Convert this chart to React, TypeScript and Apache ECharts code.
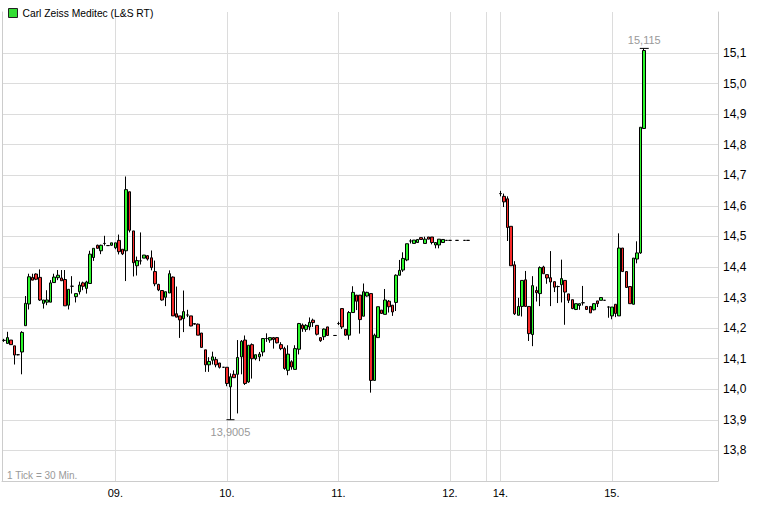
import React, { useEffect, useRef } from 'react';
import * as echarts from 'echarts';

// ---- data ----
const seriesName = 'Carl Zeiss Meditec (L&S RT)';
const dayNames = ['08.', '09.', '10.', '11.', '12.', '13.', '14.', '15.'];
const slotsPerDay = [31, 31, 31, 31, 10, 4, 31, 30];
const labelledDays = ['09.', '10.', '11.', '12.', '14.', '15.'];
const separatorDays = ['09.', '10.', '11.', '12.', '13.', '14.', '15.'];
const yTickLabels = [13.8, 13.9, 14.0, 14.1, 14.2, 14.3, 14.4, 14.5, 14.6, 14.7, 14.8, 14.9, 15.0, 15.1];

type C = [number, number, number, number] | null; // open, close, low, high

const day08: C[] = [
  [14.16, 14.16, 14.155, 14.165],
  [14.15, 14.169, 14.15, 14.188],
  [14.161, 14.146, 14.146, 14.161],
  [14.142, 14.112, 14.081, 14.142],
  [14.113, 14.113, 14.111, 14.115],
  [14.122, 14.186, 14.049, 14.19],
  [14.208, 14.281, 14.208, 14.305],
  [14.279, 14.368, 14.261, 14.378],
  [14.366, 14.357, 14.357, 14.378],
  [14.377, 14.36, 14.357, 14.379],
  [14.366, 14.292, 14.289, 14.392],
  [14.281, 14.292, 14.264, 14.292],
  [14.285, 14.292, 14.275, 14.324],
  [14.285, 14.348, 14.285, 14.357],
  [14.349, 14.367, 14.349, 14.378],
  [14.365, 14.373, 14.357, 14.39],
  [14.364, 14.355, 14.355, 14.39],
  [14.359, 14.273, 14.273, 14.39],
  [14.275, 14.327, 14.261, 14.327],
  [14.337, 14.337, 14.313, 14.37],
  [14.303, 14.313, 14.284, 14.313],
  [14.319, 14.341, 14.31, 14.352],
  [14.348, 14.337, 14.324, 14.352],
  [14.33, 14.351, 14.313, 14.355],
  [14.346, 14.442, 14.346, 14.453],
  [14.431, 14.461, 14.42, 14.461],
  [14.471, 14.461, 14.461, 14.473],
  [14.453, 14.471, 14.442, 14.473],
  [14.477, 14.477, 14.47, 14.502],
  [14.47, 14.47, 14.47, 14.47],
  [14.471, 14.479, 14.469, 14.479],
];

const day09: C[] = [
  [14.463, 14.479, 14.458, 14.479],
  [14.487, 14.45, 14.441, 14.506],
  [14.458, 14.443, 14.439, 14.458],
  [14.453, 14.653, 14.354, 14.696],
  [14.646, 14.52, 14.513, 14.646],
  [14.518, 14.414, 14.369, 14.518],
  [14.404, 14.421, 14.372, 14.434],
  [14.42, 14.42, 14.408, 14.513],
  [14.429, 14.439, 14.429, 14.439],
  [14.437, 14.426, 14.421, 14.439],
  [14.43, 14.398, 14.389, 14.454],
  [14.385, 14.345, 14.337, 14.421],
  [14.343, 14.325, 14.321, 14.345],
  [14.323, 14.292, 14.29, 14.323],
  [14.301, 14.319, 14.272, 14.319],
  [14.315, 14.378, 14.315, 14.389],
  [14.367, 14.24, 14.24, 14.369],
  [14.247, 14.236, 14.236, 14.336],
  [14.24, 14.227, 14.168, 14.24],
  [14.231, 14.254, 14.187, 14.323],
  [14.243, 14.243, 14.236, 14.26],
  [14.24, 14.207, 14.206, 14.24],
  [14.215, 14.213, 14.211, 14.215],
  [14.213, 14.177, 14.177, 14.215],
  [14.184, 14.137, 14.137, 14.184],
  [14.129, 14.08, 14.057, 14.129],
  [14.08, 14.091, 14.057, 14.105],
  [14.095, 14.106, 14.081, 14.123],
  [14.097, 14.08, 14.072, 14.106],
  [14.086, 14.072, 14.068, 14.086],
  [14.072, 14.072, 14.07, 14.072],
];

const day10: C[] = [
  [14.072, 14.019, 14.01, 14.072],
  [14.008, 14.041, 13.9005, 14.052],
  [14.049, 14.038, 14.038, 14.062],
  [14.049, 14.104, 13.921, 14.161],
  [14.106, 14.157, 14.049, 14.161],
  [14.161, 14.019, 14.014, 14.176],
  [14.024, 14.144, 14.021, 14.144],
  [14.146, 14.1, 14.035, 14.15],
  [14.1, 14.113, 14.095, 14.113],
  [14.106, 14.115, 14.092, 14.122],
  [14.122, 14.166, 14.108, 14.166],
  [14.166, 14.166, 14.155, 14.183],
  [14.161, 14.169, 14.152, 14.169],
  [14.169, 14.163, 14.133, 14.171],
  [14.169, 14.152, 14.15, 14.171],
  [14.146, 14.133, 14.128, 14.154],
  [14.133, 14.068, 14.064, 14.139],
  [14.062, 14.115, 14.046, 14.144],
  [14.09, 14.073, 14.064, 14.095],
  [14.065, 14.133, 14.065, 14.144],
  [14.131, 14.215, 14.114, 14.217],
  [14.21, 14.198, 14.188, 14.215],
  [14.196, 14.209, 14.188, 14.213],
  [14.204, 14.219, 14.193, 14.235],
  [14.226, 14.218, 14.204, 14.231],
  [14.209, 14.18, 14.176, 14.209],
  [14.169, 14.159, 14.155, 14.169],
  [14.172, 14.197, 14.161, 14.199],
  [14.204, 14.176, 14.176, 14.204],
  null,
  [14.176, 14.176, 14.176, 14.176],
];

const day11: C[] = [
  [14.215, 14.215, 14.21, 14.221],
  [14.264, 14.204, 14.197, 14.264],
  [14.196, 14.177, 14.175, 14.196],
  [14.177, 14.251, 14.162, 14.256],
  [14.251, 14.317, 14.251, 14.337],
  [14.308, 14.288, 14.259, 14.308],
  [14.308, 14.228, 14.182, 14.308],
  [14.239, 14.319, 14.239, 14.346],
  [14.305, 14.317, 14.303, 14.319],
  [14.313, 14.029, 13.989, 14.313],
  [14.029, 14.177, 14.029, 14.182],
  [14.169, 14.27, 14.169, 14.27],
  [14.259, 14.248, 14.248, 14.259],
  [14.245, 14.292, 14.245, 14.328],
  [14.288, 14.27, 14.251, 14.292],
  [14.275, 14.253, 14.24, 14.275],
  [14.284, 14.373, 14.256, 14.376],
  [14.373, 14.389, 14.373, 14.423],
  [14.39, 14.428, 14.384, 14.448],
  [14.423, 14.476, 14.419, 14.476],
  [14.485, 14.485, 14.477, 14.491],
  [14.477, 14.488, 14.477, 14.488],
  [14.48, 14.49, 14.48, 14.49],
  [14.496, 14.49, 14.49, 14.496],
  [14.477, 14.491, 14.477, 14.499],
  [14.498, 14.491, 14.491, 14.498],
  [14.498, 14.48, 14.474, 14.498],
  [14.472, 14.48, 14.461, 14.48],
  [14.472, 14.491, 14.461, 14.491],
  [14.48, 14.49, 14.48, 14.49],
  [14.487, 14.487, 14.487, 14.487],
];

const day12: C[] = [
  [14.487, 14.487, 14.487, 14.487],
  null,
  [14.487, 14.487, 14.487, 14.487],
  null,
  [14.487, 14.487, 14.487, 14.487],
  [14.487, 14.487, 14.487, 14.487],
  null,
  null,
  null,
  null,
];

const day13: C[] = [null, null, null, null];

const day14: C[] = [
  [14.64, 14.64, 14.631, 14.649],
  [14.631, 14.613, 14.596, 14.64],
  [14.623, 14.529, 14.485, 14.631],
  [14.533, 14.404, 14.404, 14.533],
  [14.407, 14.247, 14.243, 14.419],
  [14.242, 14.271, 14.242, 14.299],
  [14.271, 14.356, 14.238, 14.356],
  [14.358, 14.271, 14.271, 14.387],
  [14.271, 14.182, 14.158, 14.271],
  [14.179, 14.339, 14.141, 14.37],
  [14.323, 14.316, 14.287, 14.336],
  [14.313, 14.398, 14.272, 14.402],
  [14.4, 14.378, 14.378, 14.404],
  [14.375, 14.364, 14.345, 14.375],
  [14.365, 14.351, 14.272, 14.452],
  [14.352, 14.334, 14.318, 14.352],
  [14.336, 14.336, 14.282, 14.339],
  [14.342, 14.362, 14.284, 14.424],
  [14.356, 14.318, 14.211, 14.356],
  [14.312, 14.291, 14.282, 14.312],
  [14.293, 14.264, 14.262, 14.293],
  [14.261, 14.28, 14.259, 14.28],
  [14.274, 14.28, 14.26, 14.28],
  [14.283, 14.283, 14.274, 14.338],
  [14.271, 14.261, 14.261, 14.271],
  [14.271, 14.25, 14.25, 14.271],
  [14.26, 14.28, 14.258, 14.282],
  [14.289, 14.28, 14.269, 14.289],
  [14.291, 14.3, 14.291, 14.3],
  [14.291, 14.291, 14.291, 14.291],
  [14.269, 14.269, 14.234, 14.271],
];

const day15: C[] = [
  [14.24, 14.269, 14.229, 14.269],
  [14.278, 14.248, 14.236, 14.278],
  [14.24, 14.462, 14.24, 14.51],
  [14.462, 14.385, 14.385, 14.462],
  [14.385, 14.333, 14.333, 14.385],
  [14.336, 14.28, 14.28, 14.336],
  [14.278, 14.429, 14.278, 14.429],
  [14.426, 14.446, 14.412, 14.484],
  [14.446, 14.857, 14.443, 14.857],
  [14.853, 15.108, 14.853, 15.115],
  null, null, null, null, null, null, null, null, null, null,
  null, null, null, null, null, null, null, null, null, null,
];

const days: C[][] = [day08, day09, day10, day11, day12, day13, day14, day15];

// ---- styles ----
const FONT = '"Liberation Sans", Arial, sans-serif';
const GREEN = '#2cf72c';
const RED = '#f72a2a';
const GRID = '#dcdcdc';
const BORDER = '#cccccc';

export default function App() {
  const ref = useRef<HTMLDivElement>(null);

  useEffect(() => {
    if (!ref.current) return;
    const chart = echarts.init(ref.current, null, { renderer: 'svg' });

    const categories: string[] = [];
    const data: any[] = [];
    const dayStartIndex: Record<string, number> = {};
    dayNames.forEach((d, di) => {
      dayStartIndex[d] = categories.length;
      for (let i = 0; i < slotsPerDay[di]; i++) {
        categories.push(d + '|' + i);
        const c = days[di][i];
        data.push(c ? [c[0], c[1], c[2], c[3]] : ['-', '-', '-', '-']);
      }
    });

    const labelIdx = new Set(labelledDays.map((d) => dayStartIndex[d]));

    // extremes
    let lowIdx = -1, highIdx = -1, lowV = Infinity, highV = -Infinity;
    data.forEach((c, i) => {
      if (typeof c[2] === 'number' && c[2] < lowV) { lowV = c[2]; lowIdx = i; }
      if (typeof c[3] === 'number' && c[3] > highV) { highV = c[3]; highIdx = i; }
    });
    const fmt = (v: number) => String(v).replace('.', ',');

    const yMin = 13.7;
    const yMax = 15.234;
    const splitColors: string[] = [BORDER];
    for (let i = 0; i < yTickLabels.length; i++) splitColors.push(GRID);
    splitColors.push('rgba(0,0,0,0)', 'rgba(0,0,0,0)', 'rgba(0,0,0,0)');

    const extremeLabel = {
      show: true,
      color: '#999999',
      fontFamily: FONT,
      fontSize: 11,
      textBorderWidth: 0,
      textBorderColor: 'transparent',
      textShadowBlur: 0,
    };

    const option: any = {
      animation: false,
      backgroundColor: '#ffffff',
      textStyle: { fontFamily: FONT },
      legend: {
        left: 3,
        top: 3,
        itemWidth: 9,
        itemHeight: 9,
        selectedMode: false,
        textStyle: { fontFamily: FONT, fontSize: 10.3, color: '#000' },
        data: [
          {
            name: seriesName,
            icon: 'rect',
            itemStyle: { color: '#33dd33', borderColor: '#222', borderWidth: 1 },
          },
        ],
      },
      graphic: [
        {
          type: 'text',
          left: 7,
          top: 470,
          style: { text: '1 Tick = 30 Min.', fill: '#999', font: '10px "Liberation Sans", Arial, sans-serif' },
        },
      ],
      grid: { left: 2, right: 42, top: 12, bottom: 36, containLabel: false },
      xAxis: {
        type: 'category',
        data: categories,
        boundaryGap: true,
        axisLine: { show: true, lineStyle: { color: BORDER, width: 1 } },
        axisTick: { show: false },
        splitLine: { show: false },
        axisLabel: {
          interval: (index: number) => labelIdx.has(index),
          formatter: (v: string) => v.split('|')[0],
          color: '#000',
          fontFamily: FONT,
          fontSize: 11,
          margin: 6,
        },
      },
      yAxis: [
        {
          type: 'value',
          position: 'right',
          min: yMin,
          max: yMax,
          interval: 0.1,
          axisLine: { show: true, onZero: false, lineStyle: { color: BORDER, width: 1 } },
          axisTick: { show: false },
          axisLabel: {
            color: '#000',
            fontFamily: FONT,
            fontSize: 12,
            margin: 5,
            formatter: (v: number) => {
              const hit = yTickLabels.find((t) => Math.abs(t - v) < 1e-6);
              return hit === undefined ? '' : hit.toFixed(1).replace('.', ',');
            },
          },
          splitLine: { show: true, lineStyle: { color: splitColors, width: 1 } },
        },
        {
          type: 'value',
          position: 'left',
          min: yMin,
          max: yMax,
          interval: 0.1,
          axisLine: { show: true, onZero: false, lineStyle: { color: BORDER, width: 1 } },
          axisTick: { show: false },
          axisLabel: { show: false },
          splitLine: { show: false },
        },
      ],
      series: [
        {
          name: seriesName,
          type: 'candlestick',
          yAxisIndex: 0,
          data,
          barWidth: 3,
          itemStyle: {
            color: GREEN,
            color0: RED,
            borderColor: '#000',
            borderColor0: '#000',
            borderColorDoji: '#000',
            borderWidth: 1,
          },
          markLine: {
            silent: true,
            z: 1,
            symbol: ['none', 'none'],
            label: { show: false },
            lineStyle: { color: GRID, type: 'solid', width: 1 },
            emphasis: { disabled: true },
            data: separatorDays.map((d) => ({ xAxis: categories[dayStartIndex[d]] })),
          },
          markPoint: {
            silent: true,
            data: [
              {
                coord: [categories[lowIdx], lowV],
                symbol: 'rect',
                symbolSize: [8, 1],
                itemStyle: { color: '#000' },
                label: { ...extremeLabel, position: 'bottom', distance: 6, formatter: fmt(lowV) },
              },
              {
                coord: [categories[highIdx], highV],
                symbol: 'rect',
                symbolSize: [9, 1],
                itemStyle: { color: '#000' },
                label: { ...extremeLabel, position: 'top', distance: 2, formatter: fmt(highV) },
              },
            ],
          },
        },
      ],
    };

    chart.setOption(option);
    return () => chart.dispose();
  }, []);

  return (
    <div
      ref={ref}
      style={{ position: 'absolute', left: 0, top: 0, width: 760, height: 517, background: '#fff' }}
    />
  );
}
